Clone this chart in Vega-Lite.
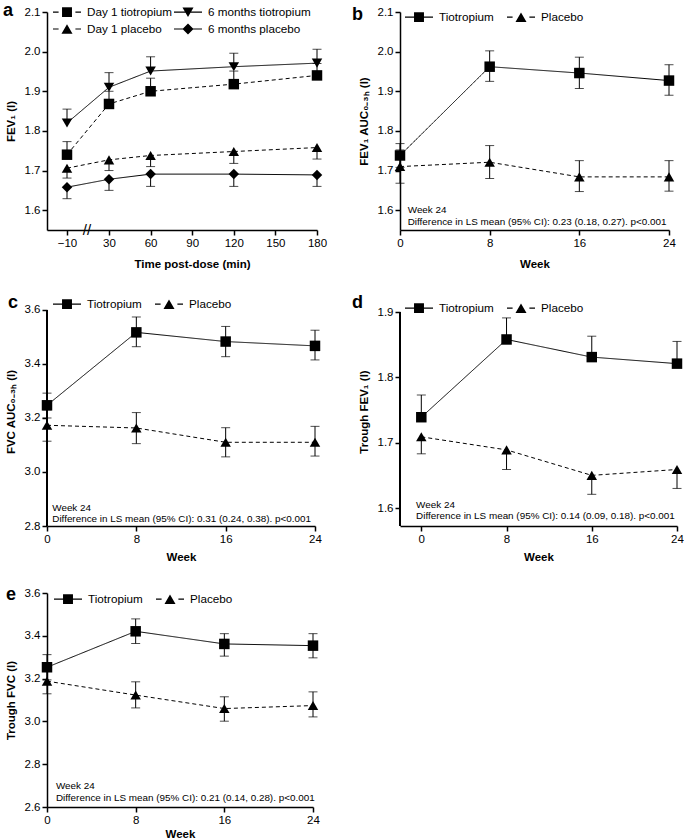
{
"$schema": "https://vega.github.io/schema/vega-lite/v6.json",
"background": "white",
"padding": {"left": 3, "top": 2, "right": 0, "bottom": 0},
"bounds": "flush",
"columns": 2,
"align": "each",
"spacing": {"row": 67, "column": 83},
"resolve": {"scale": {"shape": "independent", "strokeDash": "independent"}, "legend": {"shape": "independent", "strokeDash": "independent"}},
"config": {
  "font": "Liberation Sans",
  "view": {"stroke": null},
  "axis": {"grid": false, "domainColor": "black", "domainWidth": 1.5, "tickColor": "black", "tickWidth": 1.5, "tickSize": 5, "labelFontSize": 11.5, "labelColor": "black", "labelFont": "Liberation Sans", "titleFont": "Liberation Sans", "titleFontSize": 11.5, "titleFontWeight": "bold", "titleColor": "black", "labelPadding": 2, "titlePadding": 6, "labelFlush": false},
  "axisY": {"titlePadding": 8},
  "legend": {"labelFont": "Liberation Sans", "labelFontSize": 11.7, "labelColor": "black", "symbolSize": 196, "labelOffset": 20, "symbolFillColor": "black", "symbolStrokeWidth": 0, "symbolOpacity": 1, "padding": 0, "orient": "none", "direction": "horizontal", "labelLimit": 300, "rowPadding": 3, "columnPadding": 13},
  "title": {"anchor": "start", "frame": "group", "fontSize": 18, "fontWeight": "bold", "color": "black", "font": "Liberation Sans", "offset": 0, "baseline": "alphabetic"}
},
"datasets": {
  "a": [
    {"t": -10, "series": "Day 1 tiotropium", "y": 1.74, "hi": 1.773},
    {"t": 30, "series": "Day 1 tiotropium", "y": 1.868, "hi": 1.9},
    {"t": 60, "series": "Day 1 tiotropium", "y": 1.9, "hi": 1.933},
    {"t": 120, "series": "Day 1 tiotropium", "y": 1.918, "hi": 1.951},
    {"t": 180, "series": "Day 1 tiotropium", "y": 1.94, "hi": 1.97},
    {"t": -10, "series": "6 months tiotropium", "y": 1.82, "hi": 1.855},
    {"t": 30, "series": "6 months tiotropium", "y": 1.91, "hi": 1.947},
    {"t": 60, "series": "6 months tiotropium", "y": 1.951, "hi": 1.987},
    {"t": 120, "series": "6 months tiotropium", "y": 1.962, "hi": 1.996},
    {"t": 180, "series": "6 months tiotropium", "y": 1.971, "hi": 2.006},
    {"t": -10, "series": "Day 1 placebo", "y": 1.706, "lo": 1.681},
    {"t": 30, "series": "Day 1 placebo", "y": 1.727, "lo": 1.7},
    {"t": 60, "series": "Day 1 placebo", "y": 1.738, "lo": 1.71},
    {"t": 120, "series": "Day 1 placebo", "y": 1.748, "lo": 1.718},
    {"t": 180, "series": "Day 1 placebo", "y": 1.758, "lo": 1.729},
    {"t": -10, "series": "6 months placebo", "y": 1.658, "lo": 1.629},
    {"t": 30, "series": "6 months placebo", "y": 1.678, "lo": 1.65},
    {"t": 60, "series": "6 months placebo", "y": 1.691, "lo": 1.66},
    {"t": 120, "series": "6 months placebo", "y": 1.691, "lo": 1.66},
    {"t": 180, "series": "6 months placebo", "y": 1.689, "lo": 1.66}
  ],
  "b": [
    {"t": 0, "series": "Tiotropium", "y": 1.738, "lo": 1.708, "hi": 1.768},
    {"t": 8, "series": "Tiotropium", "y": 1.962, "lo": 1.925, "hi": 2.002},
    {"t": 16, "series": "Tiotropium", "y": 1.946, "lo": 1.907, "hi": 1.986},
    {"t": 24, "series": "Tiotropium", "y": 1.927, "lo": 1.89, "hi": 1.967},
    {"t": 0, "series": "Placebo", "y": 1.71, "lo": 1.668, "hi": 1.752},
    {"t": 8, "series": "Placebo", "y": 1.721, "lo": 1.68, "hi": 1.763},
    {"t": 16, "series": "Placebo", "y": 1.684, "lo": 1.647, "hi": 1.725},
    {"t": 24, "series": "Placebo", "y": 1.684, "lo": 1.648, "hi": 1.725}
  ],
  "c": [
    {"t": 0, "series": "Tiotropium", "y": 3.247, "lo": 3.2, "hi": 3.292},
    {"t": 8, "series": "Tiotropium", "y": 3.517, "lo": 3.464, "hi": 3.574},
    {"t": 16, "series": "Tiotropium", "y": 3.483, "lo": 3.427, "hi": 3.539},
    {"t": 24, "series": "Tiotropium", "y": 3.467, "lo": 3.415, "hi": 3.525},
    {"t": 0, "series": "Placebo", "y": 3.173, "lo": 3.114, "hi": 3.23},
    {"t": 8, "series": "Placebo", "y": 3.163, "lo": 3.105, "hi": 3.22},
    {"t": 16, "series": "Placebo", "y": 3.11, "lo": 3.056, "hi": 3.164},
    {"t": 24, "series": "Placebo", "y": 3.11, "lo": 3.059, "hi": 3.169}
  ],
  "d": [
    {"t": 0, "series": "Tiotropium", "y": 1.739, "hi": 1.773},
    {"t": 8, "series": "Tiotropium", "y": 1.858, "hi": 1.891},
    {"t": 16, "series": "Tiotropium", "y": 1.831, "hi": 1.863},
    {"t": 24, "series": "Tiotropium", "y": 1.821, "hi": 1.855},
    {"t": 0, "series": "Placebo", "y": 1.709, "lo": 1.683},
    {"t": 8, "series": "Placebo", "y": 1.689, "lo": 1.659},
    {"t": 16, "series": "Placebo", "y": 1.65, "lo": 1.621},
    {"t": 24, "series": "Placebo", "y": 1.659, "lo": 1.63}
  ],
  "e": [
    {"t": 0, "series": "Tiotropium", "y": 3.253, "lo": 3.194, "hi": 3.312},
    {"t": 8, "series": "Tiotropium", "y": 3.421, "lo": 3.364, "hi": 3.479},
    {"t": 16, "series": "Tiotropium", "y": 3.362, "lo": 3.305, "hi": 3.41},
    {"t": 24, "series": "Tiotropium", "y": 3.354, "lo": 3.297, "hi": 3.41},
    {"t": 0, "series": "Placebo", "y": 3.188, "lo": 3.129, "hi": 3.247},
    {"t": 8, "series": "Placebo", "y": 3.123, "lo": 3.063, "hi": 3.185},
    {"t": 16, "series": "Placebo", "y": 3.06, "lo": 3.001, "hi": 3.115},
    {"t": 24, "series": "Placebo", "y": 3.074, "lo": 3.021, "hi": 3.138}
  ]
},
"concat": [
  {
    "width": 270, "height": 218,
    "title": {"text": "a", "dx": -44, "dy": 19},
    "data": {"name": "a"},
    "encoding": {
      "x": {"field": "t", "type": "quantitative", "scale": {"domain": [-15, -10, 30, 180], "range": [0, 20, 62, 270], "nice": false, "zero": false}, "axis": {"values": [-10, 30, 60, 90, 120, 150, 180], "title": "Time post-dose (min)", "titleX": 145, "titlePadding": 10}},
      "y": {"field": "y", "type": "quantitative", "scale": {"domain": [1.55, 2.1], "nice": false, "zero": false}, "axis": {"values": [1.6, 1.7, 1.8, 1.9, 2.0, 2.1], "format": ".1f", "title": "FEV₁ (l)"}}
    },
    "layer": [
      {"transform": [{"filter": "datum.hi != null"}], "mark": {"type": "rule", "color": "black", "strokeWidth": 1}, "encoding": {"y2": {"field": "hi"}}},
      {"transform": [{"filter": "datum.lo != null"}], "mark": {"type": "rule", "color": "black", "strokeWidth": 1}, "encoding": {"y2": {"field": "lo"}}},
      {"transform": [{"filter": "datum.hi != null"}], "mark": {"type": "tick", "orient": "horizontal", "color": "black", "size": 9, "thickness": 1}, "encoding": {"y": {"field": "hi", "type": "quantitative", "scale": {"domain": [1.55, 2.1], "nice": false, "zero": false}}}},
      {"transform": [{"filter": "datum.lo != null"}], "mark": {"type": "tick", "orient": "horizontal", "color": "black", "size": 9, "thickness": 1}, "encoding": {"y": {"field": "lo", "type": "quantitative", "scale": {"domain": [1.55, 2.1], "nice": false, "zero": false}}}},
      {"mark": {"type": "line", "color": "black", "strokeWidth": 1}, "encoding": {"strokeDash": {"field": "series", "type": "nominal", "scale": {"domain": ["Day 1 tiotropium", "6 months tiotropium", "Day 1 placebo", "6 months placebo"], "range": [[4, 3], [1, 0], [4, 3], [1, 0]]}, "legend": null}}},
      {"mark": {"type": "point", "filled": true, "color": "black", "opacity": 1, "size": 110}, "encoding": {"shape": {"field": "series", "type": "nominal", "scale": {"domain": ["Day 1 tiotropium", "6 months tiotropium", "Day 1 placebo", "6 months placebo"], "range": ["square", "triangle-down", "triangle-up", "diamond"]}, "legend": null}}},
      {"transform": [{"filter": "false"}], "mark": {"type": "point", "filled": true, "color": "black", "opacity": 1}, "encoding": {"shape": {"field": "series", "type": "nominal", "scale": {"domain": ["Day 1 tiotropium", "6 months tiotropium", "Day 1 placebo", "6 months placebo"], "range": ["M-1,-0.08H-0.2V0.08H-1Z M2.2,-0.08H3V0.08H2.2Z M0.29,-0.71H1.71V0.71H0.29Z", "M-1,-0.08H3V0.08H-1Z M0.21,-0.68H1.79L1,0.68Z", "M-1,-0.08H-0.2V0.08H-1Z M2.2,-0.08H3V0.08H2.2Z M1,-0.68L1.79,0.68H0.21Z", "M-1,-0.08H3V0.08H-1Z M1,-0.79L1.79,0L1,0.79L0.21,0Z"]}, "legend": {"title": null, "legendX": 6, "legendY": -7, "columns": 2, "columnPadding": 1}}}},
      {"transform": [{"filter": "datum.t == 180 && datum.series == '6 months placebo'"}], "mark": {"type": "text", "fontSize": 15, "align": "center", "baseline": "middle", "color": "black"}, "encoding": {"x": {"datum": 9}, "y": {"datum": 1.55}, "text": {"value": "//"}}}
    ],
    "resolve": {"scale": {"shape": "independent"}, "legend": {"shape": "independent"}}
  },
  {
    "width": 269, "height": 218,
    "title": {"text": "b", "dx": -48, "dy": 22},
    "data": {"name": "b"},
    "encoding": {
      "x": {"field": "t", "type": "quantitative", "scale": {"domain": [0, 24], "nice": false, "zero": false}, "axis": {"values": [0, 8, 16, 24], "title": "Week", "titlePadding": 10}},
      "y": {"field": "y", "type": "quantitative", "scale": {"domain": [1.55, 2.1], "nice": false, "zero": false}, "axis": {"values": [1.6, 1.7, 1.8, 1.9, 2.0, 2.1], "format": ".1f", "title": "FEV₁ AUC₀₋₃ₕ (l)"}}
    },
    "layer": [
      {"transform": [{"filter": "datum.hi != null"}], "mark": {"type": "rule", "color": "black", "strokeWidth": 1}, "encoding": {"y2": {"field": "hi"}}},
      {"transform": [{"filter": "datum.lo != null"}], "mark": {"type": "rule", "color": "black", "strokeWidth": 1}, "encoding": {"y2": {"field": "lo"}}},
      {"transform": [{"filter": "datum.hi != null"}], "mark": {"type": "tick", "orient": "horizontal", "color": "black", "size": 9, "thickness": 1}, "encoding": {"y": {"field": "hi", "type": "quantitative", "scale": {"domain": [1.55, 2.1], "nice": false, "zero": false}}}},
      {"transform": [{"filter": "datum.lo != null"}], "mark": {"type": "tick", "orient": "horizontal", "color": "black", "size": 9, "thickness": 1}, "encoding": {"y": {"field": "lo", "type": "quantitative", "scale": {"domain": [1.55, 2.1], "nice": false, "zero": false}}}},
      {"mark": {"type": "line", "color": "black", "strokeWidth": 1}, "encoding": {"strokeDash": {"field": "series", "type": "nominal", "scale": {"domain": ["Tiotropium", "Placebo"], "range": [[1, 0], [4, 3]]}, "legend": null}}},
      {"mark": {"type": "point", "filled": true, "color": "black", "opacity": 1, "size": 110}, "encoding": {"shape": {"field": "series", "type": "nominal", "scale": {"domain": ["Tiotropium", "Placebo"], "range": ["square", "triangle-up"]}, "legend": null}}},
      {"transform": [{"filter": "false"}], "mark": {"type": "point", "filled": true, "color": "black", "opacity": 1}, "encoding": {"shape": {"field": "series", "type": "nominal", "scale": {"domain": ["Tiotropium", "Placebo"], "range": ["M-1,-0.08H3V0.08H-1Z M0.29,-0.71H1.71V0.71H0.29Z", "M-1,-0.08H-0.2V0.08H-1Z M2.2,-0.08H3V0.08H2.2Z M1,-0.68L1.79,0.68H0.21Z"]}, "legend": {"title": null, "legendX": 5, "legendY": -2}}}},
      {"transform": [{"filter": "datum.t == 24 && datum.series == 'Placebo'"}], "mark": {"type": "text", "align": "left", "baseline": "middle", "fontSize": 9.9, "lineBreak": "\n", "lineHeight": 11.5, "color": "black"}, "encoding": {"x": {"datum": 0.69}, "y": {"datum": 1.6}, "text": {"value": "Week 24\nDifference in LS mean (95% CI): 0.23 (0.18, 0.27). p<0.001"}}}
    ],
    "resolve": {"scale": {"shape": "independent"}, "legend": {"shape": "independent"}}
  },
  {
    "width": 268, "height": 229,
    "title": {"text": "c", "dx": -39, "dy": 19},
    "data": {"name": "c"},
    "encoding": {
      "x": {"field": "t", "type": "quantitative", "scale": {"domain": [0, 24], "nice": false, "zero": false}, "axis": {"values": [0, 8, 16, 24], "title": "Week", "titlePadding": 7}},
      "y": {"field": "y", "type": "quantitative", "scale": {"domain": [2.8, 3.648], "nice": false, "zero": false}, "axis": {"values": [2.8, 3.0, 3.2, 3.4, 3.6], "format": ".1f", "title": "FVC AUC₀₋₃ₕ (l)", "domain": false}}
    },
    "layer": [
      {"mark": {"type": "rule", "color": "black", "strokeWidth": 1.5}, "encoding": {"x": {"datum": 0}, "y": {"datum": 2.8}, "y2": {"datum": 3.6}}},
      {"transform": [{"filter": "datum.hi != null"}], "mark": {"type": "rule", "color": "black", "strokeWidth": 1}, "encoding": {"y2": {"field": "hi"}}},
      {"transform": [{"filter": "datum.lo != null"}], "mark": {"type": "rule", "color": "black", "strokeWidth": 1}, "encoding": {"y2": {"field": "lo"}}},
      {"transform": [{"filter": "datum.hi != null"}], "mark": {"type": "tick", "orient": "horizontal", "color": "black", "size": 9, "thickness": 1}, "encoding": {"y": {"field": "hi", "type": "quantitative", "scale": {"domain": [2.8, 3.648], "nice": false, "zero": false}}}},
      {"transform": [{"filter": "datum.lo != null"}], "mark": {"type": "tick", "orient": "horizontal", "color": "black", "size": 9, "thickness": 1}, "encoding": {"y": {"field": "lo", "type": "quantitative", "scale": {"domain": [2.8, 3.648], "nice": false, "zero": false}}}},
      {"mark": {"type": "line", "color": "black", "strokeWidth": 1}, "encoding": {"strokeDash": {"field": "series", "type": "nominal", "scale": {"domain": ["Tiotropium", "Placebo"], "range": [[1, 0], [4, 3]]}, "legend": null}}},
      {"mark": {"type": "point", "filled": true, "color": "black", "opacity": 1, "size": 110}, "encoding": {"shape": {"field": "series", "type": "nominal", "scale": {"domain": ["Tiotropium", "Placebo"], "range": ["square", "triangle-up"]}, "legend": null}}},
      {"transform": [{"filter": "false"}], "mark": {"type": "point", "filled": true, "color": "black", "opacity": 1}, "encoding": {"shape": {"field": "series", "type": "nominal", "scale": {"domain": ["Tiotropium", "Placebo"], "range": ["M-1,-0.08H3V0.08H-1Z M0.29,-0.71H1.71V0.71H0.29Z", "M-1,-0.08H-0.2V0.08H-1Z M2.2,-0.08H3V0.08H2.2Z M1,-0.68L1.79,0.68H0.21Z"]}, "legend": {"title": null, "legendX": 6, "legendY": 0}}}},
      {"transform": [{"filter": "datum.t == 24 && datum.series == 'Placebo'"}], "mark": {"type": "text", "align": "left", "baseline": "middle", "fontSize": 9.9, "lineBreak": "\n", "lineHeight": 11.5, "color": "black"}, "encoding": {"x": {"datum": 0.47}, "y": {"datum": 2.868}, "text": {"value": "Week 24\nDifference in LS mean (95% CI): 0.31 (0.24, 0.38). p<0.001"}}}
    ],
    "resolve": {"scale": {"shape": "independent"}, "legend": {"shape": "independent"}}
  },
  {
    "width": 277, "height": 229,
    "title": {"text": "d", "dx": -48, "dy": 19},
    "data": {"name": "d"},
    "encoding": {
      "x": {"field": "t", "type": "quantitative", "scale": {"domain": [-2, 24], "nice": false, "zero": false}, "axis": {"values": [0, 8, 16, 24], "title": "Week", "titlePadding": 7}},
      "y": {"field": "y", "type": "quantitative", "scale": {"domain": [1.5725, 1.923], "nice": false, "zero": false}, "axis": {"values": [1.6, 1.7, 1.8, 1.9], "format": ".1f", "title": "Trough FEV₁ (l)", "domain": false}}
    },
    "layer": [
      {"mark": {"type": "rule", "color": "black", "strokeWidth": 1.5}, "encoding": {"x": {"datum": -2}, "y": {"datum": 1.5725}, "y2": {"datum": 1.9}}},
      {"transform": [{"filter": "datum.hi != null"}], "mark": {"type": "rule", "color": "black", "strokeWidth": 1}, "encoding": {"y2": {"field": "hi"}}},
      {"transform": [{"filter": "datum.lo != null"}], "mark": {"type": "rule", "color": "black", "strokeWidth": 1}, "encoding": {"y2": {"field": "lo"}}},
      {"transform": [{"filter": "datum.hi != null"}], "mark": {"type": "tick", "orient": "horizontal", "color": "black", "size": 9, "thickness": 1}, "encoding": {"y": {"field": "hi", "type": "quantitative", "scale": {"domain": [1.5725, 1.923], "nice": false, "zero": false}}}},
      {"transform": [{"filter": "datum.lo != null"}], "mark": {"type": "tick", "orient": "horizontal", "color": "black", "size": 9, "thickness": 1}, "encoding": {"y": {"field": "lo", "type": "quantitative", "scale": {"domain": [1.5725, 1.923], "nice": false, "zero": false}}}},
      {"mark": {"type": "line", "color": "black", "strokeWidth": 1}, "encoding": {"strokeDash": {"field": "series", "type": "nominal", "scale": {"domain": ["Tiotropium", "Placebo"], "range": [[1, 0], [4, 3]]}, "legend": null}}},
      {"mark": {"type": "point", "filled": true, "color": "black", "opacity": 1, "size": 110}, "encoding": {"shape": {"field": "series", "type": "nominal", "scale": {"domain": ["Tiotropium", "Placebo"], "range": ["square", "triangle-up"]}, "legend": null}}},
      {"transform": [{"filter": "false"}], "mark": {"type": "point", "filled": true, "color": "black", "opacity": 1}, "encoding": {"shape": {"field": "series", "type": "nominal", "scale": {"domain": ["Tiotropium", "Placebo"], "range": ["M-1,-0.08H3V0.08H-1Z M0.29,-0.71H1.71V0.71H0.29Z", "M-1,-0.08H-0.2V0.08H-1Z M2.2,-0.08H3V0.08H2.2Z M1,-0.68L1.79,0.68H0.21Z"]}, "legend": {"title": null, "legendX": 5, "legendY": 4}}}},
      {"transform": [{"filter": "datum.t == 24 && datum.series == 'Placebo'"}], "mark": {"type": "text", "align": "left", "baseline": "middle", "fontSize": 9.9, "lineBreak": "\n", "lineHeight": 11.5, "color": "black"}, "encoding": {"x": {"datum": -0.49}, "y": {"datum": 1.605}, "text": {"value": "Week 24\nDifference in LS mean (95% CI): 0.14 (0.09, 0.18). p<0.001"}}}
    ],
    "resolve": {"scale": {"shape": "independent"}, "legend": {"shape": "independent"}}
  },
  {
    "width": 266, "height": 214,
    "title": {"text": "e", "dx": -41, "dy": 21},
    "data": {"name": "e"},
    "encoding": {
      "x": {"field": "t", "type": "quantitative", "scale": {"domain": [0, 24], "nice": false, "zero": false}, "axis": {"values": [0, 8, 16, 24], "title": "Week", "titlePadding": 3}},
      "y": {"field": "y", "type": "quantitative", "scale": {"domain": [2.6, 3.6], "nice": false, "zero": false}, "axis": {"values": [2.6, 2.8, 3.0, 3.2, 3.4, 3.6], "format": ".1f", "title": "Trough FVC (l)"}}
    },
    "layer": [
      {"transform": [{"filter": "datum.hi != null"}], "mark": {"type": "rule", "color": "black", "strokeWidth": 1}, "encoding": {"y2": {"field": "hi"}}},
      {"transform": [{"filter": "datum.lo != null"}], "mark": {"type": "rule", "color": "black", "strokeWidth": 1}, "encoding": {"y2": {"field": "lo"}}},
      {"transform": [{"filter": "datum.hi != null"}], "mark": {"type": "tick", "orient": "horizontal", "color": "black", "size": 9, "thickness": 1}, "encoding": {"y": {"field": "hi", "type": "quantitative", "scale": {"domain": [2.6, 3.6], "nice": false, "zero": false}}}},
      {"transform": [{"filter": "datum.lo != null"}], "mark": {"type": "tick", "orient": "horizontal", "color": "black", "size": 9, "thickness": 1}, "encoding": {"y": {"field": "lo", "type": "quantitative", "scale": {"domain": [2.6, 3.6], "nice": false, "zero": false}}}},
      {"mark": {"type": "line", "color": "black", "strokeWidth": 1}, "encoding": {"strokeDash": {"field": "series", "type": "nominal", "scale": {"domain": ["Tiotropium", "Placebo"], "range": [[1, 0], [4, 3]]}, "legend": null}}},
      {"mark": {"type": "point", "filled": true, "color": "black", "opacity": 1, "size": 110}, "encoding": {"shape": {"field": "series", "type": "nominal", "scale": {"domain": ["Tiotropium", "Placebo"], "range": ["square", "triangle-up"]}, "legend": null}}},
      {"transform": [{"filter": "false"}], "mark": {"type": "point", "filled": true, "color": "black", "opacity": 1}, "encoding": {"shape": {"field": "series", "type": "nominal", "scale": {"domain": ["Tiotropium", "Placebo"], "range": ["M-1,-0.08H3V0.08H-1Z M0.29,-0.71H1.71V0.71H0.29Z", "M-1,-0.08H-0.2V0.08H-1Z M2.2,-0.08H3V0.08H2.2Z M1,-0.68L1.79,0.68H0.21Z"]}, "legend": {"title": null, "legendX": 7, "legendY": -1}}}},
      {"transform": [{"filter": "datum.t == 24 && datum.series == 'Placebo'"}], "mark": {"type": "text", "align": "left", "baseline": "middle", "fontSize": 9.9, "lineBreak": "\n", "lineHeight": 11.5, "color": "black"}, "encoding": {"x": {"datum": 0.81}, "y": {"datum": 2.696}, "text": {"value": "Week 24\nDifference in LS mean (95% CI): 0.21 (0.14, 0.28). p<0.001"}}}
    ],
    "resolve": {"scale": {"shape": "independent"}, "legend": {"shape": "independent"}}
  }
]
}
